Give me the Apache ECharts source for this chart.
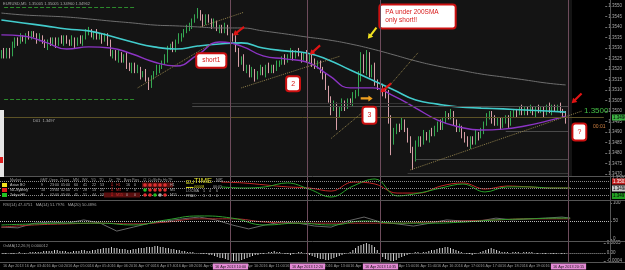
<!DOCTYPE html>
<html>
<head>
<meta charset="utf-8">
<script src="https://cdn.jsdelivr.net/npm/echarts@6/dist/echarts.min.js"></script>
<style>
html, body { margin: 0; padding: 0; background: #000; }
#chart { width: 625px; height: 270px; }
</style>
</head>
<body>
<div id="chart"></div>
<script>
// EURUSD M5, bar 0 = 16 Apr 03:00
var closes = [
    1.3528, 1.3526, 1.3529, 1.3527, 1.3531, 1.3534, 1.3533, 1.3535, 1.3534, 1.3536, 1.3535, 1.3537, 1.3536, 1.3534, 1.3535, 1.3533,
    1.3531, 1.3533, 1.3532, 1.3534, 1.3532, 1.3534, 1.3533, 1.3535, 1.3533, 1.3532, 1.3534, 1.3532, 1.3534, 1.3533, 1.3535, 1.3537,
    1.3538, 1.3536, 1.3537, 1.3535, 1.3536, 1.3534, 1.3536, 1.3532, 1.3527, 1.3528, 1.3525, 1.3527, 1.3524, 1.3526, 1.3522, 1.3520,
    1.3522, 1.3519, 1.3520, 1.3517, 1.3518, 1.3515, 1.3513, 1.3516, 1.3518, 1.3520, 1.3521, 1.3523, 1.3525, 1.3530, 1.3531, 1.3529,
    1.3533, 1.3535, 1.3536, 1.3538, 1.3539, 1.3541, 1.3543, 1.3545, 1.3547, 1.3544, 1.3542, 1.3545, 1.3543, 1.3541, 1.3542, 1.3539,
    1.3540, 1.3538, 1.3540, 1.3537, 1.3536, 1.3534, 1.3529, 1.3523, 1.3525, 1.3520, 1.3521, 1.3517, 1.3519, 1.3516, 1.3518, 1.3520,
    1.3518, 1.3521, 1.3519, 1.3521, 1.3520, 1.3522, 1.3523, 1.3525, 1.3524, 1.3526, 1.3528, 1.3526, 1.3528, 1.3527, 1.3525, 1.3527,
    1.3524, 1.3526, 1.3523, 1.3521, 1.3523, 1.3520, 1.3516, 1.3511, 1.3506, 1.3501, 1.3503, 1.3499, 1.3501, 1.3504, 1.3502, 1.3505,
    1.3504, 1.3507, 1.3509, 1.3515, 1.3522, 1.3519, 1.3524, 1.3517, 1.3520, 1.3514, 1.3511, 1.3512, 1.3509, 1.3507, 1.3496, 1.3486,
    1.3490, 1.3493, 1.3492, 1.3495, 1.3491, 1.3487, 1.3481, 1.3478, 1.3484, 1.3487, 1.3485, 1.3489, 1.3487, 1.3490, 1.3489, 1.3492,
    1.3494, 1.3492, 1.3496, 1.3498, 1.3497, 1.3499, 1.3495, 1.3491, 1.3492, 1.3489, 1.3486, 1.3484, 1.3487, 1.3485, 1.3489, 1.3488,
    1.3491, 1.3494, 1.3497, 1.3499, 1.3496, 1.3494, 1.3496, 1.3493, 1.3495, 1.3497, 1.3494, 1.3498, 1.3500, 1.3499, 1.3501, 1.3499,
    1.3501, 1.3500, 1.3501, 1.3499, 1.3501, 1.3500, 1.3501, 1.3499, 1.3502, 1.3500, 1.3502, 1.3501, 1.3502, 1.3500, 1.3499, 1.3496
];
var firstOpen = 1.3527;
// wick lengths in pips above / below the body
var hiWick = [
    1, 2, 1, 1, 2, 1, 1, 2, 1, 1, 2, 1, 1, 1, 2, 1,
    1, 1, 2, 1, 1, 1, 2, 1, 1, 1, 2, 1, 1, 2, 1, 2,
    2, 1, 1, 2, 1, 1, 1, 1, 2, 1, 1, 2, 1, 1, 2, 1,
    1, 1, 2, 1, 1, 2, 1, 1, 1, 2, 1, 1, 2, 1, 1, 2,
    1, 2, 1, 1, 2, 1, 1, 1, 2, 1, 2, 1, 1, 1, 2, 1,
    1, 1, 2, 1, 1, 1, 2, 1, 1, 2, 1, 1, 2, 1, 1, 2,
    1, 1, 2, 1, 1, 2, 1, 1, 2, 1, 2, 1, 1, 2, 1, 1,
    2, 1, 1, 2, 1, 1, 1, 2, 1, 1, 2, 1, 1, 2, 1, 1,
    1, 2, 1, 4, 6, 5, 5, 4, 2, 3, 1, 2, 1, 2, 3, 2,
    2, 1, 1, 2, 1, 1, 1, 2, 2, 1, 1, 2, 1, 1, 2, 1,
    1, 2, 1, 2, 1, 2, 1, 1, 2, 1, 1, 2, 1, 1, 2, 1,
    1, 1, 2, 1, 1, 2, 1, 1, 2, 1, 1, 2, 1, 1, 1, 2,
    1, 1, 2, 1, 1, 2, 1, 1, 1, 2, 1, 1, 1, 2, 1, 1
];
var loWick = [
    2, 1, 1, 2, 1, 1, 2, 1, 1, 2, 1, 1, 1, 2, 1, 1,
    1, 2, 1, 1, 2, 1, 1, 2, 1, 1, 1, 2, 1, 1, 2, 1,
    1, 1, 2, 1, 1, 2, 1, 1, 1, 2, 1, 2, 1, 1, 2, 1,
    2, 1, 1, 2, 1, 1, 3, 2, 1, 1, 2, 1, 1, 2, 1, 1,
    1, 1, 2, 1, 1, 1, 2, 1, 1, 1, 2, 1, 1, 2, 1, 1,
    2, 1, 1, 1, 2, 1, 1, 2, 1, 1, 2, 1, 1, 2, 1, 1,
    1, 2, 1, 1, 2, 1, 1, 1, 2, 1, 1, 2, 1, 1, 2, 1,
    1, 1, 2, 1, 1, 2, 1, 1, 2, 3, 1, 8, 2, 1, 2, 1,
    1, 2, 1, 2, 1, 1, 2, 1, 1, 2, 1, 1, 2, 1, 2, 7,
    2, 1, 2, 1, 1, 2, 1, 6, 2, 1, 2, 1, 1, 2, 1, 1,
    2, 1, 1, 2, 1, 1, 2, 1, 1, 2, 1, 1, 2, 1, 1, 2,
    1, 2, 1, 1, 2, 1, 1, 2, 1, 1, 2, 1, 1, 2, 1, 1,
    1, 2, 1, 1, 2, 1, 1, 2, 1, 1, 2, 1, 1, 1, 2, 2
];
var pip = 0.0001;

// moving averages, read every 8 bars
var maBars = [0, 8, 16, 24, 32, 40, 48, 56, 64, 72, 80, 88, 96, 104, 112, 120, 128, 136, 144, 152, 160, 168, 176, 184, 192, 200, 207];
var sma200 = [1.35433, 1.35419, 1.35405, 1.35390, 1.35381, 1.35357, 1.35328, 1.35305, 1.35295, 1.35309, 1.35319, 1.35324, 1.35300, 1.35286,
    1.35276, 1.35243, 1.35195, 1.35148, 1.35100, 1.35052, 1.35033, 1.35019, 1.35014, 1.35010, 1.35005, 1.35000, 1.34995];
var sma50 = [1.35362, 1.35357, 1.35328, 1.35295, 1.35305, 1.35300, 1.35271, 1.35233, 1.35214, 1.35267, 1.35328, 1.35309, 1.35262, 1.35248,
    1.35233, 1.35171, 1.35110, 1.35110, 1.35071, 1.35014, 1.34957, 1.34924, 1.34910, 1.34914, 1.34929, 1.34952, 1.34976];
var smaLong = [1.35466, 1.35457, 1.35452, 1.35447, 1.35438, 1.35428, 1.35419, 1.35409, 1.35405, 1.35400, 1.35395, 1.35395, 1.35381, 1.35367,
    1.35352, 1.35338, 1.35319, 1.35295, 1.35267, 1.35238, 1.35214, 1.35195, 1.35176, 1.35162, 1.35148, 1.35133, 1.35124];

// second window (two crossing lines)
var p2Bars = [80, 88, 96, 104, 112, 120, 128, 136, 144, 152, 160, 168, 176, 184, 192, 200, 207];
var p2Red = [77, 73, 64, 55, 50, 36, 77, 68, 27, 27, 59, 73, 45, 59, 55, 50, 50];
var p2Green = [55, 50, 55, 73, 45, 9, 59, 91, 14, 27, 50, 68, 32, 55, 55, 50, 50];

// RSI window
var rsiBars = [0, 6, 12, 18, 24, 30, 36, 42, 48, 54, 60, 66, 72, 78, 84, 90, 96, 102, 108, 114, 120, 126, 132, 138, 144, 150, 156, 162, 168, 174, 180, 186, 192, 198, 204, 207];
var rsi = [33, 31, 44, 47, 44, 53, 44, 22, 33, 44, 50, 56, 61, 53, 39, 28, 39, 47, 44, 36, 33, 50, 61, 47, 42, 36, 44, 53, 50, 50, 58, 53, 56, 58, 61, 58];
var rsiMaBars = [0, 12, 24, 36, 48, 60, 72, 84, 96, 108, 120, 132, 144, 156, 168, 180, 192, 204, 207];
var rsiMaFast = [39, 42, 44, 44, 39, 53, 64, 58, 39, 44, 39, 50, 44, 44, 47, 53, 56, 58, 58];
var rsiMaSlow = [33, 39, 42, 44, 42, 47, 56, 56, 47, 44, 44, 44, 44, 47, 50, 53, 56, 56, 56];

// OsMA histogram, one value per bar
var osma = [
    -0.00005, -0.00005, 0, -0.00005, -0.00005, 0, 0.00005, 0, -0.00005, 0, 0.00005, 0.00005,
    0.00005, 0.00005, 0.00005, 0.0001, 0.0001, 0.0001, 0.0001, 0.00015, 0.00015, 0.0001, 0.0001, 0.0001, 0.00005, 0.00005, 0.0001, 0.0001, 0.0001, 0.00015, 0.00015, 0.0001,
    0.0001, 0.00015, 0.00015, 0.0002, 0.0002, 0.00025, 0.00025, 0.00025, 0.0003, 0.00025, 0.00025, 0.0002, 0.0002, 0.0002, 0.00015, 0.00015, 0.0002, 0.0002, 0.00025,
    0.00025, 0.00025, 0.0003, 0.0003, 0.0003, 0.00035, 0.00035, 0.0003, 0.0003, 0.00025, 0.00025, 0.0002, 0.0002, 0.00015, 0.00015, 0.0001, 0.0001, 0.00005,
    0.00005, 0.00005, 0, 0, -0.00005, -0.00005, -0.00005, -0.0001, -0.0001,
    -0.00015, -0.0002, -0.00025, -0.00025, -0.0003, -0.00035, -0.0004, -0.0004, -0.0004, -0.0004, -0.00035, -0.0003, -0.00025, -0.0002, -0.00015, -0.0001, -0.0001, -0.00005, -0.00005,
    0, 0.00005, 0.00005, 0.0001, 0.00005, 0.00005, 0, -0.00005, -0.00005, -0.0001, -0.00005, 0, 0.00005, 0.00005, 0, -0.00005,
    -0.0001, -0.00015, -0.0002, -0.00025, -0.0003, -0.0003, -0.00035, -0.00035, -0.0003, -0.00025, -0.0002, -0.00015,
    -0.0001, -0.00005, 0, 0.00005,
    0.00015, 0.00025, 0.00035, 0.0004, 0.00045, 0.0005, 0.00045, 0.0004, 0.0003, 0.00015,
    -0.00005, -0.0002, -0.0003, -0.00035, -0.0004, -0.0004, -0.00035, -0.00025, -0.0002, -0.00015,
    -0.0001, -0.00005, 0, 0.00005, 0.00005, 0, 0.00005, 0.00005, 0.0001, 0.00015,
    0.00015, 0.0002, 0.00025, 0.00025, 0.0003, 0.0003, 0.00025, 0.0002, 0.00015, 0.0001,
    0.00005, 0, -0.00005, -0.00005, -0.0001, -0.00005,
    0, 0.00005, 0.0001, 0.00015, 0.0002, 0.00025, 0.0002, 0.00015, 0.0001, 0.00005,
    0.00005, 0.00005, 0, 0.00005, 0.00005, 0.00005, 0, 0.00005, 0.00005, 0.00005, 0.00005, 0, -0.00005, 0, -0.00005, -0.00005, 0, -0.00005, -0.00005, -0.00005, 0, -0.00005, -0.00005
];

var priceTicks = [1.3470, 1.3475, 1.3480, 1.3485, 1.3490, 1.3495, 1.3500, 1.3505, 1.3510, 1.3515, 1.3520, 1.3525, 1.3530, 1.3535, 1.3540, 1.3545, 1.3550];
var tickLabels = ["16 Apr 2013", "16 Apr 03:40", "16 Apr 04:20", "16 Apr 05:00", "16 Apr 05:40", "16 Apr 06:20", "16 Apr 07:00", "16 Apr 07:40",
    "16 Apr 08:20", "16 Apr 09:00", "16 Apr 09:40", "16 Apr 10:20", "16 Apr 11:00", "16 Apr 11:40", "16 Apr 12:20", "16 Apr 13:00",
    "16 Apr 13:40", "16 Apr 14:20", "16 Apr 15:00", "16 Apr 15:40", "16 Apr 16:20", "16 Apr 17:00", "16 Apr 17:40", "16 Apr 18:20",
    "16 Apr 19:00", "16 Apr 19:40"];
var sessionBars = [84, 112, 139, 208];
var sessionLabels = ["16 Apr 2013 10:00", "16 Apr 2013 12:20", "16 Apr 2013 14:35", "16 Apr 2013 20:15"];

// session table in the second window
var tableHead = ['Market', 'GMT', 'Open', 'Close', 'MN', 'WK', 'YD', 'TD', 'Dr', 'TF', 'Bars', 'Pips', 'Cl', 'Cu', 'Sb', 'Fu', 'Ho', 'TF'];
var tableNames = ['Asian BO', 'NZ-Sydney', 'Tokyo-HK'];
var tableSwatch = ['#f2e21c', '#e01e1e', '#22c222'];
var tableRows = [
    ['9', '23:00', '05:00', '60', '41', '22', '53'],
    ['10', '23:00', '02:00', '25', '28', '13', '21'],
    ['8', '02:00', '05:00', '45', '51', '44', '53']
];
var tableTf = ['H1', 'M5', 'M15'];
var tableBars = [['16', '0'], ['1', '0'], ['0', '0']];
var tableDots = [['r', 'r', 'r', 'r', 'r'], ['g', 'r', 'r', 'r', 'r'], ['r', 'r', 'g', 's', 'r']];

var totalBars = 222;
var font = '"Liberation Sans", Arial, sans-serif';

var chart = echarts.init(document.getElementById('chart'));

function candleData() {
    var out = [];
    for (var i = 0; i < closes.length; i++) {
        var o = i === 0 ? firstOpen : closes[i - 1];
        var c = closes[i];
        var hi = Math.max(o, c) + hiWick[i] * pip;
        var lo = Math.min(o, c) - loWick[i] * pip;
        out.push([o, c, +lo.toFixed(5), +hi.toFixed(5)]);
    }
    return out;
}

function pairs(xs, ys) {
    return xs.map(function (x, i) {
        return [x, ys[i]];
    });
}

function seg(x1, y1, x2, y2, color, type) {
    return [{coord: [x1, y1], lineStyle: {color: color, type: type || 'solid', width: 1}}, {coord: [x2, y2]}];
}

function box(idx, price, text, size, pad) {
    return {
        coord: [idx, price], symbol: 'rect', symbolSize: [1, 1], itemStyle: {color: 'rgba(0,0,0,0)'},
        label: {
            show: true, position: 'inside', formatter: text, color: '#d81818', fontSize: size, fontFamily: font,
            lineHeight: size + 2, align: 'center',
            backgroundColor: '#ffffff', borderColor: '#cc1010', borderWidth: 2, borderRadius: 2, padding: pad
        }
    };
}

var arrowPath = 'path://M4,0 L8,5 L5.4,5 L5.4,14 L2.6,14 L2.6,5 L0,5 Z';
function arrow(idx, price, rot, color, size) {
    return {coord: [idx, price], symbol: arrowPath, symbolSize: size || [6, 14], symbolRotate: rot, itemStyle: {color: color}, label: {show: false}};
}

var cats = [];
for (var i = 0; i < totalBars; i++) cats.push(i);

function xAxis(grid, showLabels) {
    return {
        type: 'category', gridIndex: grid, data: cats, boundaryGap: true,
        axisLine: {show: false}, axisTick: {show: false}, splitLine: {show: false},
        axisLabel: {
            show: showLabels, interval: 7, align: 'left', margin: 3, fontSize: 3.8, fontFamily: font, color: '#9a9a9a',
            formatter: function (v, idx) {
                return tickLabels[idx / 8] || '';
            }
        }
    };
}

var labelStyle = {fontSize: 4.5, fontFamily: font, color: '#a8a8a8', margin: 3, showMaxLabel: true, showMinLabel: true};

var option = {
    backgroundColor: '#000',
    animation: false,
    grid: [
        {left: 0, right: 15, top: 0, height: 176},
        {left: 0, right: 15, top: 177, height: 22},
        {left: 0, right: 15, top: 203, height: 36},
        {left: 0, right: 15, top: 243, height: 18}
    ],
    xAxis: [xAxis(0, false), xAxis(1, false), xAxis(2, false), xAxis(3, true)],
    yAxis: [
        {
            gridIndex: 0, position: 'right', min: 1.34691, max: 1.35528, splitLine: {show: false},
            axisLine: {show: false}, axisTick: {show: true, length: 2, customValues: priceTicks, lineStyle: {color: '#707070'}},
            axisLabel: Object.assign({customValues: priceTicks, formatter: function (v) { return v.toFixed(4); }}, labelStyle)
        },
        {gridIndex: 1, position: 'right', min: 0, max: 100, splitLine: {show: false}, axisLine: {show: false}, axisTick: {show: false}, axisLabel: {show: false}},
        {
            gridIndex: 2, position: 'right', min: 0, max: 100, splitLine: {show: false}, axisLine: {show: false},
            axisTick: {show: true, length: 2, customValues: [0, 50, 100], lineStyle: {color: '#707070'}},
            axisLabel: Object.assign({customValues: [0, 50, 100]}, labelStyle)
        },
        {
            gridIndex: 3, position: 'right', min: -0.0004, max: 0.0005, splitLine: {show: false}, axisLine: {show: false},
            axisTick: {show: true, length: 2, customValues: [-0.0004, 0, 0.0005], lineStyle: {color: '#707070'}},
            axisLabel: Object.assign({customValues: [-0.0004, 0, 0.0005], formatter: function (v) { return v === 0 ? '0.00' : v.toFixed(4); }}, labelStyle)
        }
    ],
    series: [
        {
            type: 'candlestick', xAxisIndex: 0, yAxisIndex: 0, data: candleData(), barWidth: 1,
            itemStyle: {color: '#2f9a4a', color0: '#d49aa2', borderColor: '#35a852', borderColor0: '#d8a0a8', borderWidth: 1},
            markLine: {
                silent: true, symbol: 'none', label: {show: false}, animation: false,
                data: [
                    seg(1, 1.35495, 49, 1.35495, '#2c8a2c', 'dashed'),
                    seg(1, 1.35057, 49, 1.35057, '#2c8a2c', 'dashed'),
                    seg(0, 1.3497, 221, 1.3497, '#5c5226'),
                    seg(70, 1.35038, 150, 1.35038, '#333333'),
                    seg(70, 1.35024, 208, 1.35024, '#4a4a4a'),
                    seg(185, 1.34905, 208, 1.34905, '#4a4a4a'),
                    seg(152, 1.34771, 208, 1.34771, '#4a4a4a'),
                    seg(149, 1.34705, 208, 1.34705, '#3a3a3a'),
                    seg(50, 1.3511, 77, 1.3532, '#8f7f4a', 'dotted'),
                    seg(73, 1.3540, 89, 1.3547, '#8f7f4a', 'dotted'),
                    seg(88, 1.3511, 124, 1.3526, '#8f7f4a', 'dotted'),
                    seg(121, 1.3487, 134, 1.3501, '#8f7f4a', 'dotted'),
                    seg(141, 1.3510, 153, 1.3528, '#8f7f4a', 'dotted'),
                    seg(150, 1.3472, 213, 1.3500, '#8f7f4a', 'dotted')
                ]
            },
            markPoint: {
                silent: true, animation: false,
                data: [
                    box(77, 1.3524, 'short1', 6.5, [2, 5, 2, 5]),
                    box(107, 1.3513, '2', 7, [2, 4, 2, 4]),
                    box(135, 1.3498, '3', 7, [3, 4, 3, 4]),
                    box(212, 1.3490, '?', 7, [3, 4, 3, 4]),
                    {
                        coord: [139, 1.3545], symbol: 'rect', symbolSize: [1, 1], itemStyle: {color: 'rgba(0,0,0,0)'},
                        label: {
                            show: true, position: 'inside', formatter: 'PA under 200SMA\nonly short!!', color: '#d81818', fontSize: 6.5,
                            fontFamily: font, lineHeight: 8, align: 'left',
                            backgroundColor: '#ffffff', borderColor: '#cc1010', borderWidth: 2, borderRadius: 2, padding: [3, 16, 3, 5]
                        }
                    },
                    arrow(87, 1.3538, 128, '#e01414'),
                    arrow(115, 1.3529, 132, '#e01414'),
                    arrow(141, 1.3511, 130, '#e01414'),
                    arrow(211, 1.3506, 135, '#e01414'),
                    arrow(136, 1.3537, 142, '#f0e020'),
                    arrow(134, 1.3506, -90, '#f0a020', [6, 12])
                ]
            }
        },
        {type: 'line', xAxisIndex: 0, yAxisIndex: 0, data: pairs(maBars, smaLong), smooth: true, showSymbol: false, lineStyle: {color: '#6e6e6e', width: 1}},
        {type: 'line', xAxisIndex: 0, yAxisIndex: 0, data: pairs(maBars, sma200), smooth: true, showSymbol: false, lineStyle: {color: '#42cccc', width: 1.6}},
        {type: 'line', xAxisIndex: 0, yAxisIndex: 0, data: pairs(maBars, sma50), smooth: true, showSymbol: false, lineStyle: {color: '#8c34c4', width: 1.4}},
        {
            type: 'line', xAxisIndex: 1, yAxisIndex: 1, data: pairs(p2Bars, p2Red), smooth: 0.4, showSymbol: false, lineStyle: {color: '#c02424', width: 1},
            markLine: {
                silent: true, symbol: 'none', label: {show: false}, animation: false,
                lineStyle: {color: '#8a8a8a', type: 'dotted', width: 1},
                data: [{yAxis: 82}, {yAxis: 50}, {yAxis: 18}]
            }
        },
        {type: 'line', xAxisIndex: 1, yAxisIndex: 1, data: pairs(p2Bars, p2Green), smooth: 0.4, showSymbol: false, lineStyle: {color: '#28a028', width: 1}},
        {
            type: 'line', xAxisIndex: 2, yAxisIndex: 2, data: pairs(rsiBars, rsi), showSymbol: false, lineStyle: {color: '#808080', width: 0.8},
            markLine: {
                silent: true, symbol: 'none', label: {show: false}, animation: false,
                lineStyle: {color: '#b8b8b8', type: 'dotted', width: 1},
                data: [{yAxis: 50}]
            }
        },
        {type: 'line', xAxisIndex: 2, yAxisIndex: 2, data: pairs(rsiMaBars, rsiMaSlow), smooth: true, showSymbol: false, lineStyle: {color: '#a83030', width: 1}},
        {type: 'line', xAxisIndex: 2, yAxisIndex: 2, data: pairs(rsiMaBars, rsiMaFast), smooth: true, showSymbol: false, lineStyle: {color: '#2ea02e', width: 1}},
        {
            type: 'bar', xAxisIndex: 3, yAxisIndex: 3, data: osma, barWidth: 1, itemStyle: {color: '#d4d4d4'},
            markLine: {
                silent: true, symbol: 'none', label: {show: false}, animation: false,
                lineStyle: {color: '#a0a0a0', type: 'dotted', width: 1},
                data: [{yAxis: 0}]
            }
        }
    ]
};

chart.setOption(option);

function txt(x, y, s, color, size, extra) {
    var style = {text: s, fill: color, font: size + 'px ' + font, align: 'left', verticalAlign: 'middle'};
    for (var k in extra) style[k] = extra[k];
    return {type: 'text', x: x, y: y, z: 20, silent: true, style: style};
}
function rect(x, y, w, h, fill, z) {
    return {type: 'rect', z: z === undefined ? 20 : z, silent: true, shape: {x: x, y: y, width: w, height: h}, style: {fill: fill}};
}
function hline(y, x1, x2, color) {
    return {type: 'line', z: 15, silent: true, shape: {x1: x1, y1: y, x2: x2, y2: y}, style: {stroke: color, lineWidth: 1}};
}

var g = [];
// main window area is a shade lighter than the rest
g.push(rect(0, 0, 572, 176, '#141414', 0));
[176.5, 200.5, 241.5, 262.5].forEach(function (y) {
    g.push(hline(y, 0, 625, '#555555'));
});
g.push({type: 'line', z: 15, silent: true, shape: {x1: 610.5, y1: 0, x2: 610.5, y2: 263}, style: {stroke: '#555555', lineWidth: 1}});

sessionBars.forEach(function (b, i) {
    var x = Math.round(chart.convertToPixel({xAxisIndex: 0}, b)) + 0.5;
    g.push({type: 'line', z: 14, silent: true, shape: {x1: x, y1: 0, x2: x, y2: 262}, style: {stroke: '#6e4c5c', lineWidth: 1}});
    g.push(txt(x, 266.5, sessionLabels[i], '#1a1a1a', 3.8, {align: 'center', backgroundColor: '#e48ad6', padding: [1, 2, 1, 2]}));
});

g.push(txt(3, 3.5, 'EURUSD,M5  1.35005 1.35005 1.34960 1.34962', '#a8a8a8', 4));
g.push(txt(33, 120.5, 'D01  1.3497', '#b0b0b0', 4));
g.push(txt(584, 111, '1.3500', '#46c046', 8));
g.push(txt(593, 127, '00:01', '#d08040', 5));
g.push(txt(612, 117.5, '1.34962', '#000000', 4.5, {backgroundColor: '#3cb043', padding: [1, 2, 0, 1]}));
g.push(txt(612, 177.5, '1.3520', '#a8a8a8', 4.5));
g.push(txt(612, 181.5, '1.35012', '#ffffff', 4.5, {backgroundColor: '#c02020', padding: [1, 2, 0, 1]}));
g.push(txt(612, 188.5, '1.34985', '#000000', 4.5, {backgroundColor: '#c8c8c8', padding: [1, 2, 0, 1]}));
g.push(txt(612, 196, '1.34970', '#000000', 4.5, {backgroundColor: '#22a022', padding: [1, 2, 0, 1]}));
g.push(txt(3, 204.5, 'RSI(14) 47.4751   MA(14) 51.7976   MA(20) 50.4896', '#a0a0a0', 4));
g.push(txt(3, 245.5, 'OsMA(12,26,9) 0.000012', '#a0a0a0', 4));

// clipped panel on the far left
g.push(rect(0, 110, 4, 67, '#e6e6e6'));
g.push(rect(0, 157, 3, 6, '#e02020'));

// session table
var tf = 3.6;
var headX = [10, 40, 49, 60, 73, 82, 91, 99, 109, 116, 124, 132, 143, 148, 153, 158, 163, 168];
var rowY = [185, 190, 195];
g.push(rect(142, 182.5, 31, 5, '#5a0f0f'));
g.push(rect(104, 192.5, 36, 5, '#5a0f0f'));
tableHead.forEach(function (h, i) {
    g.push(txt(headX[i], 179.5, h, '#9a9a9a', tf));
});
tableNames.forEach(function (name, r) {
    var y = rowY[r];
    g.push(rect(2, y - 2, 5, 4, tableSwatch[r]));
    g.push(txt(10, y, name, '#c8c8c8', tf));
    tableRows[r].forEach(function (v, c) {
        g.push(txt(headX[c + 1] + 1, y, v, '#b4b4b4', tf));
    });
    g.push(txt(110, y, '\u21e9', '#e02020', 4.5));
    g.push(txt(116, y, tableTf[r], '#d03030', tf));
    g.push(txt(126, y, tableBars[r][0], '#b4b4b4', tf));
    g.push(txt(134, y, tableBars[r][1], '#b4b4b4', tf));
    tableDots[r].forEach(function (d, k) {
        var fill = d === 'g' ? '#22c022' : (d === 's' ? '#a8a8a8' : '#e03030');
        g.push({type: 'circle', z: 21, silent: true, shape: {cx: 145 + k * 5, cy: y, r: 1.8}, style: {fill: fill}});
    });
    g.push(txt(170, y, tableTf[r], '#b4b4b4', tf));
});
g.push(txt(186, 182, 'EU', '#d8d820', 6));
g.push(txt(194, 181, 'TIME', '#e6e630', 7.5));
g.push(txt(216, 181, 'MS', '#a0a0a0', 4.5));
g.push(txt(186, 186.5, '\u25ac\u25ac', '#d8d820', tf));
g.push(txt(193, 186.5, '-00008', '#d8d820', tf));
g.push(txt(213, 186.5, '00:01', '#b4b4b4', tf));
g.push(txt(186, 191, 'LOCMA', '#b4b4b4', tf));
g.push(txt(203, 191, '5', '#b4b4b4', tf));
g.push(txt(209, 191, '4', '#b4b4b4', tf));
g.push(txt(216, 191, '6', '#b4b4b4', tf));
g.push(txt(186, 196, 'FRAC', '#b4b4b4', tf));
g.push(txt(203, 196, '1', '#b4b4b4', tf));
g.push(txt(209, 196, '3', '#b4b4b4', tf));
g.push(txt(216, 196, '0', '#b4b4b4', tf));

chart.setOption({graphic: {elements: g}});
</script>
</body>
</html>
